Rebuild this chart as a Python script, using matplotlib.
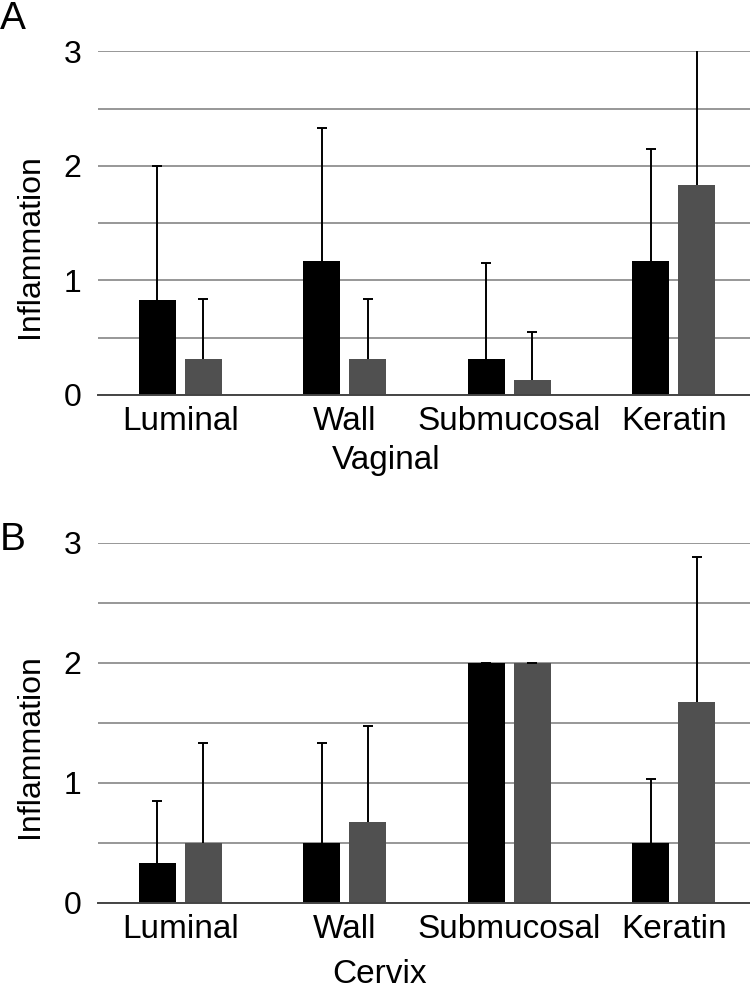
import numpy as np
import matplotlib.pyplot as plt

plt.rcParams['font.family'] = ['Liberation Sans', 'DejaVu Sans']

# ─── DATA ───────────────────────────────────────────────────────────────────
categories = ["Luminal", "Wall", "Submucosal", "Keratin"]

vag_black = [0.83, 1.17, 0.31, 1.17]
vag_black_err = [1.17, 1.16, 0.84, 0.98]
vag_gray = [0.31, 0.31, 0.13, 1.83]
vag_gray_err = [0.53, 0.53, 0.42, 1.30]

cer_black = [0.33, 0.50, 2.00, 0.50]
cer_black_err = [0.52, 0.83, 0.00, 0.53]
cer_gray = [0.50, 0.67, 2.00, 1.67]
cer_gray_err = [0.83, 0.80, 0.00, 1.21]

# ─── STYLE ──────────────────────────────────────────────────────────────────
FS = 23
BLACK = "#000000"
GRAY = "#505050"
W = 0.225
OFF = 0.14

W_PX, H_PX = 750, 991
fig = plt.figure(figsize=(7.5, 9.91), dpi=100)


def panel(rect, black, black_err, gray, gray_err, xlabel, letter,
          label_y, xlabel_base, letter_base):
    ax = fig.add_axes(rect)
    x = np.arange(len(categories))
    ax.bar(x - OFF, black, W, color=BLACK, zorder=3)
    ax.bar(x + OFF, gray, W, color=GRAY, zorder=3)
    for xs, vals, errs in [(x - OFF, black, black_err), (x + OFF, gray, gray_err)]:
        _, caps, _ = ax.errorbar(xs, vals, yerr=[np.zeros(len(vals)), errs], fmt="none",
                                 ecolor="black", elinewidth=1.4, capsize=3.6,
                                 capthick=1.4, zorder=4)
        caps[0].set_visible(False)  # upper bars only
    ax.set_xlim(-0.5, 3.463)
    ax.set_ylim(0, 3)
    ax.set_yticks([0, 1, 2, 3])
    ax.set_yticks([0.5, 1.5, 2.5], minor=True)
    ax.yaxis.grid(True, which="both", color="#858585", linewidth=1.2, zorder=0)
    ax.set_axisbelow(True)
    ax.set_xticks(x)
    ax.set_xticklabels(categories, fontsize=24)
    ax.tick_params(axis="x", length=0, pad=8)
    ax.tick_params(axis="y", which="both", length=0, pad=12, labelsize=FS)
    for s in ["top", "right", "left"]:
        ax.spines[s].set_visible(False)
    ax.spines["bottom"].set_color("#444444")
    ax.spines["bottom"].set_linewidth(1.4)
    ax.spines["bottom"].set_zorder(5)
    fig.text(30 / W_PX, 1 - label_y / H_PX, "Inflammation", rotation=90,
             fontsize=FS, ha="center", va="center")
    fig.text(332 / W_PX, 1 - xlabel_base / H_PX, xlabel, fontsize=24,
             ha="left", va="baseline")
    fig.text(0.0, 1 - letter_base / H_PX, letter, fontsize=28, ha="left", va="baseline")
    return ax


panel([98 / W_PX, 1 - 395 / H_PX, 1 - 98 / W_PX, (395 - 51.3) / H_PX],
      vag_black, vag_black_err, vag_gray, vag_gray_err, "Vaginal", "A", 246, 469, 29)
panel([98 / W_PX, 1 - 902.7 / H_PX, 1 - 98 / W_PX, (902.7 - 542.7) / H_PX],
      cer_black, cer_black_err, cer_gray, cer_gray_err, "Cervix", "B", 746, 983, 550)

fig.savefig("out.png", dpi=100)
